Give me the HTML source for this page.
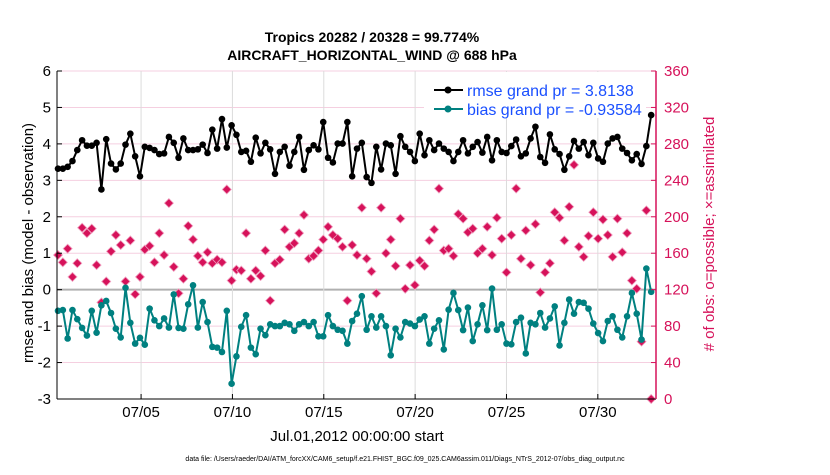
<!DOCTYPE html>
<html><head><meta charset="utf-8"><style>
body{margin:0;background:#fff;}
svg text{font-family:"Liberation Sans",Arial,sans-serif;}
</style></head><body>
<svg id="chart" width="830" height="470" xmlns="http://www.w3.org/2000/svg">
<rect width="830" height="470" fill="#fff"/>
<g id="grid"></g>
<g><rect x="424" y="72" width="222" height="46" fill="#fff"/></g>
<g id="marks"></g>
<g id="axes"></g>
<text x="372" y="42" text-anchor="middle" font-size="14" font-weight="bold">Tropics 20282 / 20328 = 99.774%</text>
<text x="372" y="60" text-anchor="middle" font-size="14" font-weight="bold">AIRCRAFT_HORIZONTAL_WIND @ 688 hPa</text>
<text transform="translate(33,243) rotate(-90)" text-anchor="middle" font-size="15">rmse and bias (model - observation)</text>
<text transform="translate(714,234) rotate(-90)" text-anchor="middle" font-size="15" fill="#d6125a"># of obs: o=possible; ×=assimilated</text>
<text x="357" y="441" text-anchor="middle" font-size="15">Jul.01,2012 00:00:00 start</text>
<text x="405" y="461" text-anchor="middle" font-size="7">data file: /Users/raeder/DAI/ATM_forcXX/CAM6_setup/f.e21.FHIST_BGC.f09_025.CAM6assim.011/Diags_NTrS_2012-07/obs_diag_output.nc</text>
<g>
<g>
<line x1="434" y1="90" x2="463" y2="90" stroke="#000" stroke-width="2"/><circle cx="448" cy="90" r="3.5" fill="#000"/>
<text x="467" y="96" font-size="16" fill="#1a4fff">rmse grand pr = 3.8138</text></g>
<g>
<line x1="434" y1="109" x2="463" y2="109" stroke="#008080" stroke-width="2"/><circle cx="448" cy="109" r="3.5" fill="#008080"/>
<text x="467" y="115" font-size="16" fill="#1a4fff">bias grand pr = -0.93584</text></g>
</g>
</svg>
<script>
const rmse=[3.32,3.32,3.37,3.53,3.83,4.10,3.95,3.95,4.03,2.75,4.13,3.46,3.30,3.46,3.98,4.28,3.66,3.11,3.92,3.89,3.83,3.72,3.74,4.19,4.03,3.62,4.15,3.83,3.83,3.85,3.98,3.75,4.39,3.87,4.68,3.90,4.51,4.25,3.78,3.81,3.51,4.17,3.74,4.03,
3.85,3.18,3.78,3.92,3.40,3.78,4.19,3.29,3.83,3.96,3.85,4.60,3.62,3.49,4.01,4.01,4.60,3.11,3.87,4.03,3.09,2.93,3.92,3.30,4.01,3.96,3.18,4.21,3.92,3.78,3.53,4.28,3.69,4.10,3.83,4.01,3.87,3.78,3.53,3.78,4.10,
3.74,3.92,4.05,3.76,4.19,3.55,4.10,3.78,3.75,3.94,4.12,3.66,3.74,4.15,4.47,3.64,3.48,4.26,3.85,3.72,3.29,3.66,4.08,3.87,4.05,3.69,4.03,3.60,3.51,4.01,4.15,4.19,3.87,3.75,3.55,3.72,3.45,3.94,4.79];
const bias=[-0.58,-0.56,-1.34,-0.56,-0.81,-1.05,-1.26,-0.58,-1.18,-0.43,-0.31,-0.64,-1.07,-1.31,0.05,-0.91,-1.48,-1.32,-1.51,-0.52,-0.84,-1.00,-0.79,-1.04,-0.13,-1.05,-1.07,-0.40,0.12,-1.04,-0.34,-0.89,-1.57,-1.59,-1.71,-0.58,-2.58,-1.83,-1.02,-0.70,-1.59,-1.77,-1.07,-1.25,
-0.95,-1.00,-1.00,-0.91,-0.95,-1.13,-0.95,-0.89,-1.00,-0.89,-1.28,-1.28,-0.70,-1.00,-1.10,-1.13,-1.48,-0.86,-0.66,-0.18,-1.10,-0.73,-1.04,-0.73,-1.00,-1.80,-1.07,-1.31,-0.89,-0.93,-1.00,-0.82,-0.73,-1.48,-1.07,-0.84,-1.64,-0.55,-0.09,-0.56,-1.11,
-0.49,-1.41,-0.95,-0.43,-1.11,0.03,-1.10,-0.95,-1.48,-1.50,-0.89,-0.77,-1.75,-0.91,-0.95,-0.64,-1.04,-0.79,-0.46,-1.53,-0.91,-0.27,-0.66,-0.34,-0.36,-0.52,-0.93,-1.19,-1.41,-0.86,-0.73,-1.10,-1.31,-0.73,-0.09,-0.66,-1.37,0.58,-0.06];
const obsCount=[158,150,165,134,149,188,182,187,147,106,129,162,180,169,129,174,115,134,164,168,150,182,158,215,145,116,132,190,175,157,150,161,149,153,150,230,130,142,141,182,132,141,135,163,
108,149,153,186,167,171,182,202,154,157,163,175,189,180,176,167,108,169,158,210,154,140,116,210,160,175,146,198,121,147,125,152,146,174,186,231,163,165,157,203,198,
183,187,160,165,189,158,199,176,139,180,231,154,185,147,192,117,139,149,205,199,174,211,257,167,156,179,205,176,197,180,156,198,161,182,130,121,63,207,0];
const leftTicks=[6,5,4,3,2,1,0,-1,-2,-3];
const rightTicks=[0,40,80,120,160,200,240,280,320,360];
const dateTicks=["07/05","07/10","07/15","07/20","07/25","07/30"];
const dateDays=[4,9,14,19,24,29];

const NS="http://www.w3.org/2000/svg";
const X0=57,X1=656,Y0=71,Y1=399;
const xi=i=>X0+1+i*(X1-X0-1)/124;
const xd=d=>68+d*18.27;
const yl=v=>Y1-(v+3)/9*(Y1-Y0);
const yr=c=>Y1-c/360*(Y1-Y0);
function mk(tag,attrs,parent){const e=document.createElementNS(NS,tag);for(const k in attrs)e.setAttribute(k,attrs[k]);parent.appendChild(e);return e;}
const grid=document.getElementById('grid'),marks=document.getElementById('marks'),axes=document.getElementById('axes');

leftTicks.forEach(v=>{
  const l=mk('line',{x1:X0,x2:X1,y1:yl(v),y2:yl(v),stroke:v===0?'#b0b0b0':'#f5cfe0','stroke-width':v===0?2:1},grid);
  
  
  const t=mk('text',{x:X0-6,y:yl(v)+5,'text-anchor':'end','font-size':15},axes);
  t.textContent=v;
  
  
  mk('line',{x1:X0,x2:X0+5,y1:yl(v),y2:yl(v),stroke:'#000'},axes);
});
rightTicks.forEach(c=>{
  const t=mk('text',{x:X1+8,y:yr(c)+5,'font-size':15,fill:'#d6125a'},axes);
  t.textContent=c;
  
  
  mk('line',{x1:X1-5,x2:X1,y1:yr(c),y2:yr(c),stroke:'#d6125a'},axes);
});
dateTicks.forEach((s,k)=>{
  const x=xd(dateDays[k]);
  const l=mk('line',{x1:x,x2:x,y1:Y0,y2:Y1,stroke:'#dcdcdc'},grid);
  
  
  mk('line',{x1:x,x2:x,y1:Y1,y2:Y1-5,stroke:'#000'},axes);
  const t=mk('text',{x:x,y:Y1+18,'text-anchor':'middle','font-size':15},axes);
  t.textContent=s;
  
  
});
mk('line',{x1:X0,x2:X0,y1:Y0,y2:Y1,stroke:'#000'},axes);
mk('line',{x1:X0,x2:X1,y1:Y1,y2:Y1,stroke:'#000'},axes);
mk('line',{x1:X1,x2:X1,y1:Y0,y2:Y1,stroke:'#d6125a','stroke-width':1.5},axes);

obsCount.forEach((c,i)=>{
  const x=xi(i),y=yr(c),s=4.5;
  const p=mk('path',{d:`M${x},${y-s}L${x+s},${y}L${x},${y+s}L${x-s},${y}Z`,fill:'#d6125a',stroke:'#f0a0c0','stroke-width':0.8},marks);
  
  
});
function series(arr,color,name){
  const pl=mk('polyline',{points:arr.map((v,i)=>xi(i)+','+yl(v)).join(' '),fill:'none',stroke:color,'stroke-width':2},marks);
  
  
  arr.forEach((v,i)=>{
    const c=mk('circle',{cx:xi(i),cy:yl(v),r:3.3,fill:color},marks);
    
    
  });
}
series(rmse,'#000','rmse');
series(bias,'#008080','bias');
</script>
</body></html>
